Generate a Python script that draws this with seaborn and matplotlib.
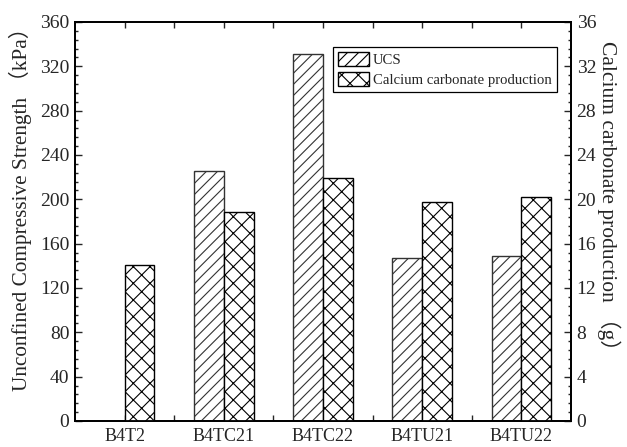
import numpy as np
import pandas as pd
import matplotlib
matplotlib.use('Agg')
import matplotlib.pyplot as plt
from matplotlib.patches import Patch
from matplotlib.ticker import MultipleLocator
import seaborn as sns

# data
samples = ['B4T2', 'B4TC21', 'B4TC22', 'B4TU21', 'B4TU22']
ucs = [np.nan, 226, 331, 147, 149]          # kPa, B4T2 has no UCS bar
caco3 = [14.1, 18.9, 21.9, 19.8, 20.2]      # g

series = ['UCS', 'Calcium carbonate production']

df = pd.DataFrame({
    'sample': samples * 2,
    'series': [series[0]] * len(samples) + [series[1]] * len(samples),
    'ucs': ucs + [np.nan] * len(samples),
    'caco3': [np.nan] * len(samples) + caco3,
})

sns.set_style('ticks')
plt.rcParams['font.family'] = ['Liberation Serif', 'Noto Sans CJK SC']
plt.rcParams['hatch.linewidth'] = 0.8
plt.rcParams['xtick.direction'] = 'in'
plt.rcParams['ytick.direction'] = 'in'

fig = plt.figure(figsize=(6.27, 4.47), dpi=100)
ax = fig.add_axes([0.1196, 0.0582, 0.7911, 0.8926])
ax2 = ax.twinx()

sns.barplot(data=df, x='sample', y='ucs', hue='series', hue_order=series,
            order=samples, dodge=True, width=0.6, ax=ax, legend=False,
            errorbar=None, palette=['white', 'white'], saturation=1,
            edgecolor='#333333', linewidth=1.0)
sns.barplot(data=df, x='sample', y='caco3', hue='series', hue_order=series,
            order=samples, dodge=True, width=0.6, ax=ax2, legend=False,
            errorbar=None, palette=['white', 'white'], saturation=1,
            edgecolor='black', linewidth=1.0)

for p in ax.patches:
    p.set_hatch('///')
for p in ax2.patches:
    p.set_hatch('xx')

ax.set_xlim(-0.5, 4.5)
ax.set_ylim(0, 360)
ax2.set_ylim(0, 36)
ax.yaxis.set_major_locator(MultipleLocator(40))
ax.yaxis.set_minor_locator(MultipleLocator(8))
ax2.yaxis.set_major_locator(MultipleLocator(4))
ax2.yaxis.set_minor_locator(MultipleLocator(0.8))
ax.set_xticks(range(len(samples)))
ax.set_xticklabels(samples)
ax.set_xticks(np.arange(0.5, len(samples) - 1, 1), minor=True)

ax.tick_params(axis='x', which='both', top=True, bottom=True, labelsize=13,
               width=1, length=4, pad=5)
ax.tick_params(axis='y', which='major', length=5, width=1, labelsize=14, pad=4)
ax.tick_params(axis='y', which='minor', length=2.5, width=1)
ax2.tick_params(axis='y', which='major', length=5, width=1, labelsize=14, pad=4)
ax2.tick_params(axis='y', which='minor', length=2.5, width=1)

for a in (ax, ax2):
    for s in a.spines.values():
        s.set_linewidth(1.3)
        s.set_color('black')

ax.set_xlabel('')
ax.set_ylabel('Unconfined Compressive Strength （kPa）', fontsize=15.3,
              va='center')
ax.yaxis.set_label_coords(-0.111, 0.545)
ax2.set_ylabel('Calcium carbonate production （g）', fontsize=15.5,
               rotation=270, va='center')
ax2.yaxis.set_label_coords(1.077, 0.552)

handles = [Patch(facecolor='white', edgecolor='black', hatch='///', linewidth=1.0),
           Patch(facecolor='white', edgecolor='black', hatch='xx', linewidth=1.0)]
leg = ax2.legend(handles, series, loc='upper right',
                 bbox_to_anchor=(0.972, 0.937), fontsize=10.6, fancybox=False,
                 edgecolor='black', framealpha=1, handlelength=2.1,
                 handleheight=1.1, handletextpad=0.3, labelspacing=0.3,
                 borderpad=0.35, borderaxespad=0)
leg.get_frame().set_linewidth(0.9)

fig.savefig('out.png', dpi=100)
